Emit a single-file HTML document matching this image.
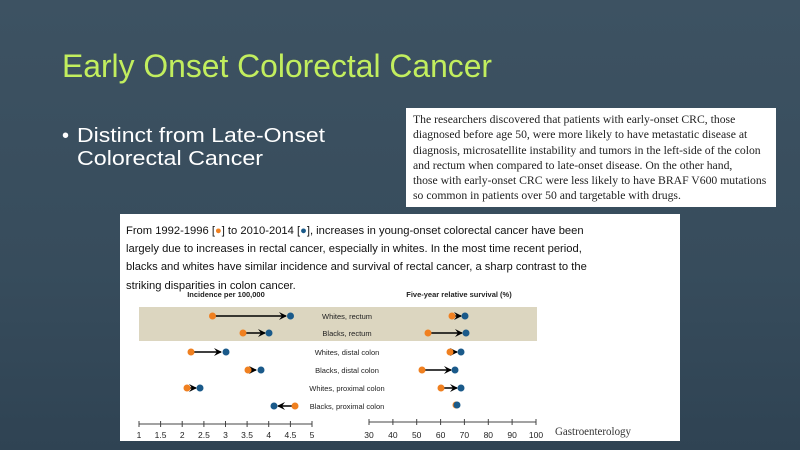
<!DOCTYPE html>
<html><head><meta charset="utf-8"><style>
html,body{margin:0;padding:0}
body{width:800px;height:450px;overflow:hidden;background:linear-gradient(180deg,#3d5262 0%,#374c5c 60%,#2f4353 100%);font-family:"Liberation Sans",sans-serif;position:relative}
.box1{position:absolute;left:406px;top:108px;width:370px;height:99px;background:#fff}
.box1 p{margin:0;position:absolute;left:7px;top:4px;font-family:"Liberation Serif",serif;font-size:11.7px;line-height:15.3px;color:#222;width:365px;white-space:nowrap}
.box2{position:absolute;left:120px;top:214px;width:560px;height:227px;background:#fff}
.box2 p{margin:0;position:absolute;left:6px;top:8px;font-size:11.2px;line-height:18px;color:#111;white-space:nowrap}
</style></head><body>
<svg width="800" height="200" style="position:absolute;left:0;top:0">
<text x="62" y="77" font-family="Liberation Sans,sans-serif" font-size="32" fill="#c2ee5e" textLength="430" lengthAdjust="spacingAndGlyphs">Early Onset Colorectal Cancer</text>
<text x="62" y="142" font-size="20" fill="#fff" font-family="Liberation Sans,sans-serif">•</text>
<text x="77" y="142" font-size="20" fill="#fff" font-family="Liberation Sans,sans-serif" textLength="248" lengthAdjust="spacingAndGlyphs">Distinct from Late-Onset</text>
<text x="77" y="165" font-size="20" fill="#fff" font-family="Liberation Sans,sans-serif" textLength="186" lengthAdjust="spacingAndGlyphs">Colorectal Cancer</text>
</svg>
<div class="box1"><p>The researchers discovered that patients with early-onset CRC, those<br>diagnosed before age 50, were more likely to have metastatic disease at<br>diagnosis, microsatellite instability and tumors in the left-side of the colon<br>and rectum when compared to late-onset disease. On the other hand,<br>those with early-onset CRC were less likely to have BRAF V600 mutations<br>so common in patients over 50 and targetable with drugs.</p></div>
<div class="box2"><p>From 1992-1996 [<span style="color:#f08020">●</span>] to 2010-2014 [<span style="color:#1a5a8a">●</span>], increases in young-onset colorectal cancer have been<br>largely due to increases in rectal cancer, especially in whites. In the most time recent period,<br>blacks and whites have similar incidence and survival of rectal cancer, a sharp contrast to the<br><span style="position:relative;top:1px">striking disparities in colon cancer.</span></p></div>
<svg width="800" height="450" style="position:absolute;left:0;top:0" font-family="Liberation Sans,sans-serif">
<defs><marker id="a" markerWidth="8" markerHeight="8" refX="7" refY="4" orient="auto" markerUnits="userSpaceOnUse"><path d="M0,0 L8,4 L0,8 L3,4 Z" fill="#000"/></marker></defs>
<rect x="139" y="307" width="398" height="34" fill="#dcd6c0"/>
<text x="226" y="297" font-size="7.5" font-weight="bold" text-anchor="middle" fill="#222">Incidence per 100,000</text>
<text x="459" y="297" font-size="7.5" font-weight="bold" text-anchor="middle" fill="#222">Five-year relative survival (%)</text>
<g font-size="7.5" text-anchor="middle" fill="#222">
<text x="347" y="319">Whites, rectum</text>
<text x="347" y="336">Blacks, rectum</text>
<text x="347" y="355">Whites, distal colon</text>
<text x="347" y="373">Blacks, distal colon</text>
<text x="347" y="391">Whites, proximal colon</text>
<text x="347" y="409">Blacks, proximal colon</text>
</g>
<g stroke="#000" stroke-width="1.5" marker-end="url(#a)">
<line x1="214" y1="316" x2="286" y2="316"/>
<line x1="243" y1="333" x2="265" y2="333"/>
<line x1="191" y1="352" x2="221" y2="352"/>
<line x1="248" y1="370" x2="256" y2="370"/>
<line x1="187" y1="388" x2="196" y2="388"/>
<line x1="294" y1="406" x2="278" y2="406"/>
<line x1="453" y1="316" x2="461" y2="316"/>
<line x1="428" y1="333" x2="462" y2="333"/>
<line x1="451" y1="352" x2="457" y2="352"/>
<line x1="422" y1="370" x2="451" y2="370"/>
<line x1="440" y1="388" x2="457" y2="388"/>
</g>
<g fill="#f08020">
<circle cx="212.5" cy="316" r="3.5"/><circle cx="243" cy="333" r="3.5"/><circle cx="191" cy="352" r="3.5"/><circle cx="248" cy="370" r="3.5"/><circle cx="187" cy="388" r="3.5"/><circle cx="295" cy="406" r="3.5"/>
<circle cx="452" cy="316" r="3.5"/><circle cx="428" cy="333" r="3.5"/><circle cx="450" cy="352" r="3.5"/><circle cx="422" cy="370" r="3.5"/><circle cx="441" cy="388" r="3.5"/><circle cx="456" cy="405" r="3.5"/>
</g>
<g fill="#1a5a8a">
<circle cx="290.5" cy="316" r="3.5"/><circle cx="269" cy="333" r="3.5"/><circle cx="226" cy="352" r="3.5"/><circle cx="261" cy="370" r="3.5"/><circle cx="200" cy="388" r="3.5"/><circle cx="274" cy="406" r="3.5"/>
<circle cx="465" cy="316" r="3.5"/><circle cx="466" cy="333" r="3.5"/><circle cx="461" cy="352" r="3.5"/><circle cx="455" cy="370" r="3.5"/><circle cx="461" cy="388" r="3.5"/><circle cx="457" cy="405" r="3.5"/>
</g>
<g stroke="#444" stroke-width="1">
<line x1="139" y1="424" x2="312" y2="424"/>
<line x1="139" y1="421" x2="139" y2="427"/><line x1="160.6" y1="421" x2="160.6" y2="427"/><line x1="182.2" y1="421" x2="182.2" y2="427"/><line x1="203.9" y1="421" x2="203.9" y2="427"/><line x1="225.5" y1="421" x2="225.5" y2="427"/><line x1="247.1" y1="421" x2="247.1" y2="427"/><line x1="268.7" y1="421" x2="268.7" y2="427"/><line x1="290.4" y1="421" x2="290.4" y2="427"/><line x1="312" y1="421" x2="312" y2="427"/>
<line x1="369" y1="422" x2="536" y2="422"/>
<line x1="369" y1="419" x2="369" y2="425"/><line x1="392.9" y1="419" x2="392.9" y2="425"/><line x1="416.7" y1="419" x2="416.7" y2="425"/><line x1="440.6" y1="419" x2="440.6" y2="425"/><line x1="464.4" y1="419" x2="464.4" y2="425"/><line x1="488.3" y1="419" x2="488.3" y2="425"/><line x1="512.1" y1="419" x2="512.1" y2="425"/><line x1="536" y1="419" x2="536" y2="425"/>
</g>
<g font-size="8.5" text-anchor="middle" fill="#222">
<text x="139" y="438">1</text><text x="160.6" y="438">1.5</text><text x="182.2" y="438">2</text><text x="203.9" y="438">2.5</text><text x="225.5" y="438">3</text><text x="247.1" y="438">3.5</text><text x="268.7" y="438">4</text><text x="290.4" y="438">4.5</text><text x="312" y="438">5</text>
<text x="369" y="438">30</text><text x="392.9" y="438">40</text><text x="416.7" y="438">50</text><text x="440.6" y="438">60</text><text x="464.4" y="438">70</text><text x="488.3" y="438">80</text><text x="512.1" y="438">90</text><text x="536" y="438">100</text>
</g>
<text x="555" y="435" font-family="Liberation Serif,serif" font-size="12" fill="#333" textLength="76" lengthAdjust="spacingAndGlyphs">Gastroenterology</text>
</svg>
</body></html>
